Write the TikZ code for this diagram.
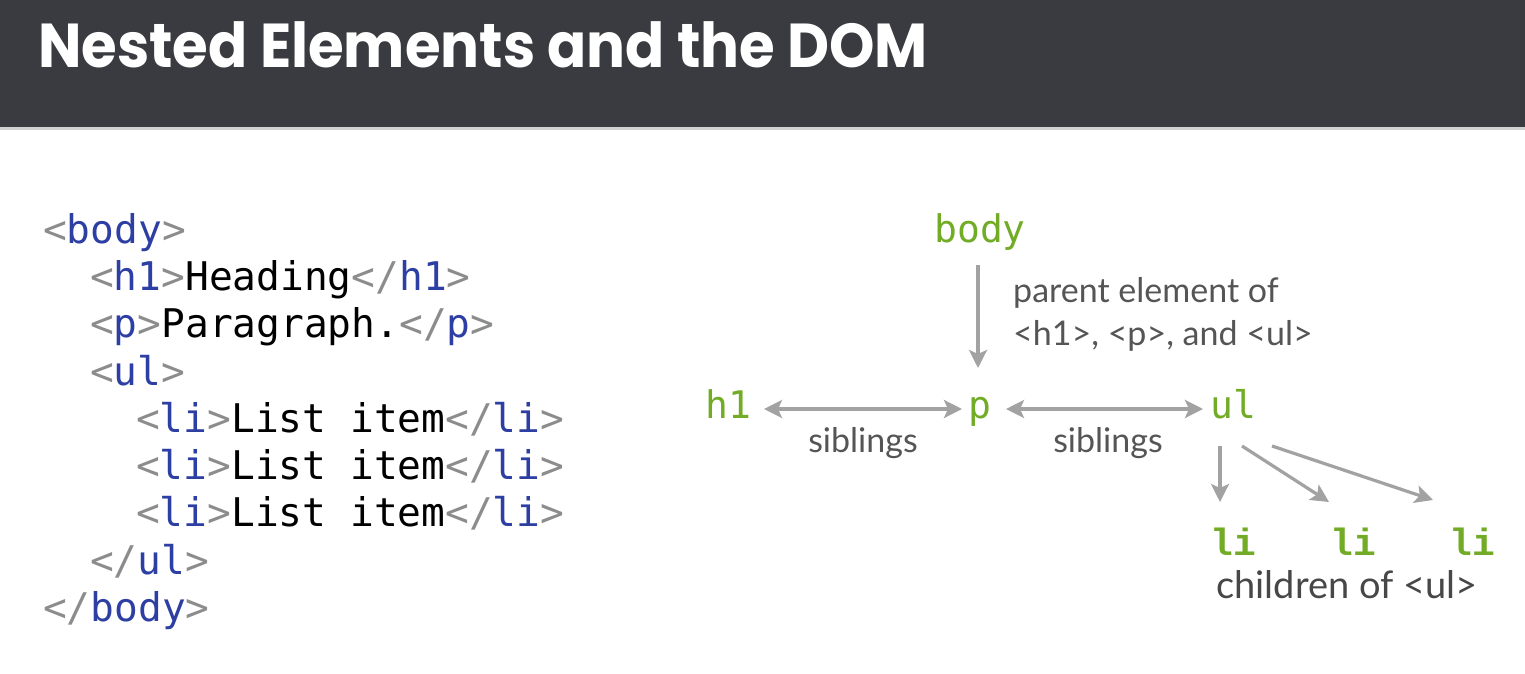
\documentclass[tikz,border=0pt]{standalone}
\usepackage{fontspec}
\setmainfont{Lato}
\newfontfamily\titlefont{Poppins}
\newfontfamily\codefont{DejaVu Sans Mono}
\newfontfamily\limono{Liberation Mono}
\usetikzlibrary{arrows.meta}
\definecolor{headbg}{HTML}{3A3B40}
\definecolor{brk}{HTML}{8C8C8C}
\definecolor{tagblue}{HTML}{2E3FA3}
\definecolor{domgreen}{HTML}{72AC26}
\definecolor{arrowgray}{HTML}{A2A2A2}
\definecolor{notegray}{HTML}{555555}
\newcommand{\br}[1]{\textcolor{brk}{#1}}
\newcommand{\tg}[1]{\textcolor{tagblue}{#1}}
\begin{document}
\begin{tikzpicture}[x=1pt,y=-1pt,
  codeline/.style={anchor=base west,inner sep=0pt,font=\codefont\fontsize{39.5}{47}\selectfont},
  domnode/.style={anchor=base,text=domgreen,inner sep=2pt,font=\codefont\fontsize{38}{40}\selectfont},
  linode/.style={anchor=base,text=domgreen,inner sep=2pt,font=\limono\bfseries\fontsize{38}{40}\selectfont},
  note/.style={anchor=base,text=notegray,inner sep=0pt,font=\fontsize{34}{40}\selectfont},
  link/.style={draw=arrowgray,line width=3.2pt,-{Stealth[length=18pt,width=18pt,inset=4pt]}},
  dlink/.style={link,{Stealth[length=18pt,width=18pt,inset=4pt]}-{Stealth[length=18pt,width=18pt,inset=4pt]}}]
\useasboundingbox (0,0) rectangle (1525,674);
\fill[white] (0,0) rectangle (1525,674);
% title band
\fill[headbg] (0,0) rectangle (1525,127);
\fill[black!18] (0,127) rectangle (1525,130);
\node[anchor=base west,inner sep=0pt,text=white,font=\titlefont\bfseries\fontsize{62}{62}\selectfont] (title) at (38,68) {\scalebox{0.932}[1]{Nested Elements and the DOM}};

% HTML source
\node[codeline] (c1) at (43,243) {\br{<}\tg{body}\br{>}};
\node[codeline] (c2) at (90,290) {\br{<}\tg{h1}\br{>}Heading\br{</}\tg{h1}\br{>}};
\node[codeline] (c3) at (90,337.5) {\br{<}\tg{p}\br{>}Paragraph.\br{</}\tg{p}\br{>}};
\node[codeline] (c4) at (90,385) {\br{<}\tg{ul}\br{>}};
\node[codeline] (c5) at (136,432) {\br{<}\tg{li}\br{>}List item\br{</}\tg{li}\br{>}};
\node[codeline] (c6) at (136,479) {\br{<}\tg{li}\br{>}List item\br{</}\tg{li}\br{>}};
\node[codeline] (c7) at (136,526.5) {\br{<}\tg{li}\br{>}List item\br{</}\tg{li}\br{>}};
\node[codeline] (c8) at (90,574) {\br{</}\tg{ul}\br{>}};
\node[codeline] (c9) at (43,621) {\br{</}\tg{body}\br{>}};

% DOM tree
\node[domnode] (body) at (980,242) {body};
\node[domnode] (h1) at (728,418) {h1};
\node[domnode] (p) at (980,418) {p};
\node[domnode] (ul) at (1233,418) {ul};
\node[linode] (li1) at (1233,555) {li};
\node[linode] (li2) at (1353,555) {li};
\node[linode] (li3) at (1472,555) {li};

\coordinate (bodyout) at (978,265);
\coordinate (pin) at (978,368);
\draw[link] (bodyout) -- (pin);
\node[note,anchor=base west] (parent1) at (1013,302) {parent element of};
\node[note,anchor=base west] (parent2) at (1013,345) {{<}h1{>}, {<}p{>}, and {<}ul{>}};

\coordinate (h1r) at (764,409);
\coordinate (pl) at (962,409);
\coordinate (pr) at (1006,409);
\coordinate (ull) at (1203,409);
\draw[dlink] (h1r) -- (pl);
\draw[dlink] (pr) -- (ull);
\node[note] (sib1) at (863,452) {siblings};
\node[note] (sib2) at (1108,452) {siblings};

\coordinate (ua) at (1220,446);
\coordinate (ub) at (1242,446);
\coordinate (uc) at (1272,446);
\coordinate (la) at (1220,502);
\coordinate (lb) at (1329,502);
\coordinate (lc) at (1433,500);
\draw[link] (ua) -- (la);
\draw[link] (ub) -- (lb);
\draw[link] (uc) -- (lc);
\node[note,text=black!72,font=\fontsize{38}{40}\selectfont] (kids) at (1347,598) {children of {<}ul{>}};
\end{tikzpicture}
\end{document}
